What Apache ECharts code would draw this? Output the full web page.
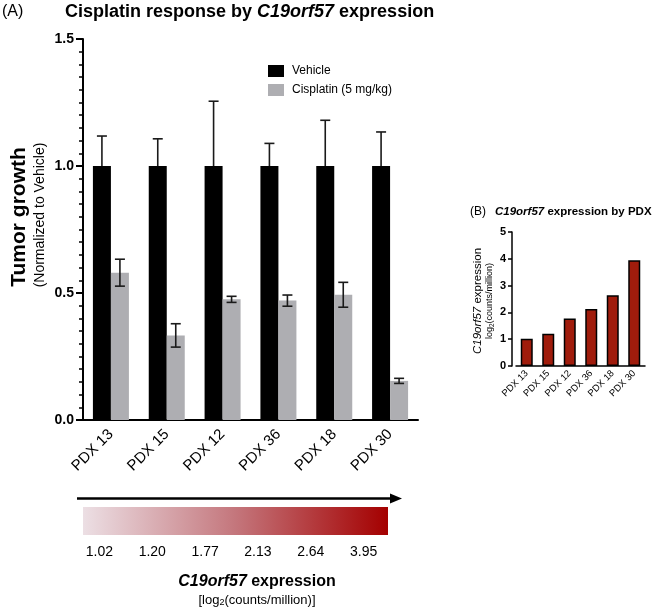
<!DOCTYPE html>
<html>
<head>
<meta charset="utf-8">
<script src="https://cdn.jsdelivr.net/npm/echarts@6/dist/echarts.min.js"></script>
<style>
html,body{margin:0;padding:0;background:#fff;}
#chart{width:669px;height:611px;}
</style>
</head>
<body>
<div id="chart"></div>
<script>
// ---- data ----
const categories = ['PDX 13', 'PDX 15', 'PDX 12', 'PDX 36', 'PDX 18', 'PDX 30'];
const vehicleMean = [1, 1, 1, 1, 1, 1];
const vehicleErr = [0.118, 0.107, 0.255, 0.089, 0.180, 0.134];
const cisplatinMean = [0.580, 0.333, 0.475, 0.470, 0.493, 0.154];
const cisplatinErr = [0.053, 0.046, 0.012, 0.022, 0.049, 0.010];
const expression = [1.02, 1.20, 1.77, 2.13, 2.64, 3.95];
const expressionLabels = ['1.02', '1.20', '1.77', '2.13', '2.64', '3.95'];

const FONT = '"Liberation Sans", Arial, Helvetica, sans-serif';
const chart = echarts.init(document.getElementById('chart'), null, {renderer: 'canvas'});

function errRender(offset, upperOnly) {
  return function (params, api) {
    const i = api.value(0), m = api.value(1), e = api.value(2);
    const c = api.coord([i, m]);
    const x = c[0] + offset;
    const top = api.coord([i, m + e])[1];
    const bot = upperOnly ? c[1] : api.coord([i, m - e])[1];
    const hw = 5;
    const st = {stroke: '#1a1a1a', lineWidth: 1.6};
    const ch = [
      {type: 'line', shape: {x1: x, y1: top, x2: x, y2: bot}, style: st},
      {type: 'line', shape: {x1: x - hw, y1: top, x2: x + hw, y2: top}, style: st}
    ];
    if (!upperOnly) ch.push({type: 'line', shape: {x1: x - hw, y1: bot, x2: x + hw, y2: bot}, style: st});
    return {type: 'group', children: ch};
  };
}

const option = {
  animation: false,
  backgroundColor: '#fff',
  legend: {
    data: ['Vehicle', 'Cisplatin (5 mg/kg)'],
    orient: 'vertical',
    left: 268, top: 65, padding: 0,
    itemWidth: 16, itemHeight: 12, itemGap: 7,
    icon: 'rect',
    textStyle: {fontSize: 12, color: '#000', fontFamily: FONT, padding: [0, 0, 0, 3]}
  },
  grid: [
    {left: 83, top: 39, width: 335, height: 381},
    {left: 516, top: 232, width: 129, height: 134},
    {left: 73, top: 530, width: 317, height: 5}
  ],
  xAxis: [
    {
      gridIndex: 0, type: 'category', data: categories,
      axisLine: {lineStyle: {color: '#000', width: 2}},
      axisTick: {alignWithLabel: true, length: 6, lineStyle: {width: 2, color: '#000'}},
      axisLabel: {rotate: 45, fontSize: 15, color: '#000', margin: 12, fontFamily: FONT}
    },
    {
      gridIndex: 1, type: 'category', data: categories,
      axisLine: {lineStyle: {color: '#000', width: 1.5}},
      axisTick: {alignWithLabel: true, length: 4, lineStyle: {width: 1.5, color: '#000'}},
      axisLabel: {rotate: 45, fontSize: 9.5, color: '#000', margin: 6, fontFamily: FONT}
    },
    {
      gridIndex: 2, type: 'category', data: expressionLabels,
      axisLine: {show: false}, axisTick: {show: false},
      axisLabel: {fontSize: 14, color: '#000', margin: 10, fontFamily: FONT}
    }
  ],
  yAxis: [
    {
      gridIndex: 0, type: 'value', min: 0, max: 1.5, interval: 0.5, position: 'left',
      axisLine: {show: true, lineStyle: {color: '#000', width: 2}},
      axisTick: {show: true, length: 7, lineStyle: {width: 2, color: '#000'}},
      minorTick: {show: true, splitNumber: 10, length: 4, lineStyle: {width: 1.5, color: '#000'}},
      splitLine: {show: false},
      axisLabel: {fontSize: 14, fontWeight: 'bold', color: '#000', margin: 9, fontFamily: FONT,
        formatter: v => v.toFixed(1)}
    },
    {
      gridIndex: 1, type: 'value', min: 0, max: 5, interval: 1, offset: 4,
      axisLine: {show: true, lineStyle: {color: '#000', width: 1.5}},
      axisTick: {show: true, length: 4, lineStyle: {width: 1.5, color: '#000'}},
      splitLine: {show: false},
      axisLabel: {fontSize: 11, fontWeight: 'bold', color: '#000', margin: 6, fontFamily: FONT}
    },
    {gridIndex: 2, type: 'value', show: false}
  ],
  series: [
    {
      name: 'Vehicle', type: 'bar', xAxisIndex: 0, yAxisIndex: 0,
      data: vehicleMean, barWidth: 18, barGap: '0%',
      itemStyle: {color: '#000'}
    },
    {
      name: 'Cisplatin (5 mg/kg)', type: 'bar', xAxisIndex: 0, yAxisIndex: 0,
      data: cisplatinMean, barWidth: 18, barGap: '0%',
      itemStyle: {color: '#aeaeb2'}
    },
    {
      type: 'custom', xAxisIndex: 0, yAxisIndex: 0, z: 5,
      renderItem: errRender(-9, true),
      data: vehicleMean.map((m, i) => [i, m, vehicleErr[i]])
    },
    {
      type: 'custom', xAxisIndex: 0, yAxisIndex: 0, z: 5,
      renderItem: errRender(9, false),
      data: cisplatinMean.map((m, i) => [i, m, cisplatinErr[i]])
    },
    {
      type: 'bar', xAxisIndex: 1, yAxisIndex: 1,
      data: expression, barWidth: 12,
      itemStyle: {color: '#a01c0c', borderColor: '#000', borderWidth: 1.5}
    },
    {
      type: 'bar', xAxisIndex: 2, yAxisIndex: 2, data: [], silent: true
    }
  ],
  graphic: [
    {type: 'text', x: 2, y: 12, style: {text: '(A)', font: '16px ' + FONT, fill: '#000', textVerticalAlign: 'middle'}},
    {type: 'text', x: 65, y: 12, style: {
      text: '{b|Cisplatin response by }{bi|C19orf57}{b| expression}',
      textVerticalAlign: 'middle',
      rich: {
        b: {fontFamily: FONT, fontSize: 18, fontWeight: 'bold', fill: '#000'},
        bi: {fontFamily: FONT, fontSize: 18, fontWeight: 'bold', fontStyle: 'italic', fill: '#000'}
      }
    }},
    {type: 'text', x: 19, y: 217, rotation: Math.PI / 2, style: {
      text: 'Tumor growth', font: 'bold 21px ' + FONT, fill: '#000', textAlign: 'center', textVerticalAlign: 'middle'}},
    {type: 'text', x: 40, y: 215, rotation: Math.PI / 2, style: {
      text: '(Normalized to Vehicle)', font: '14px ' + FONT, fill: '#000', textAlign: 'center', textVerticalAlign: 'middle'}},
    // arrow
    {type: 'line', shape: {x1: 77, y1: 498.5, x2: 393, y2: 498.5}, style: {stroke: '#000', lineWidth: 2.5}},
    {type: 'polygon', shape: {points: [[390, 493.5], [402, 498.5], [390, 503.5]]}, style: {fill: '#000'}},
    // gradient strip
    {type: 'rect', shape: {x: 83, y: 507, width: 305, height: 28}, style: {
      fill: new echarts.graphic.LinearGradient(0, 0, 1, 0, [
        {offset: 0, color: '#ecdfe4'},
        {offset: 0.5, color: '#c4767c'},
        {offset: 1, color: '#a40000'}
      ])}},
    {type: 'text', x: 257, y: 582, style: {
      text: '{bi|C19orf57}{b| expression}', textAlign: 'center', textVerticalAlign: 'middle',
      rich: {
        b: {fontFamily: FONT, fontSize: 16, fontWeight: 'bold', fill: '#000'},
        bi: {fontFamily: FONT, fontSize: 16, fontWeight: 'bold', fontStyle: 'italic', fill: '#000'}
      }
    }},
    {type: 'text', x: 257, y: 600, style: {
      text: '{n|[log}{s|2}{n|(counts/million)]}', textAlign: 'center', textVerticalAlign: 'middle',
      rich: {
        n: {fontFamily: FONT, fontSize: 13, fill: '#000'},
        s: {fontFamily: FONT, fontSize: 9, fill: '#000', verticalAlign: 'bottom', padding: [6, 0, 0, 0]}
      }
    }},
    // panel B
    {type: 'text', x: 470, y: 212, style: {text: '(B)', font: '12px ' + FONT, fill: '#000', textVerticalAlign: 'middle'}},
    {type: 'text', x: 495, y: 212, style: {
      text: '{bi|C19orf57}{b| expression by PDX}', textVerticalAlign: 'middle',
      rich: {
        b: {fontFamily: FONT, fontSize: 11.5, fontWeight: 'bold', fill: '#000'},
        bi: {fontFamily: FONT, fontSize: 11.5, fontWeight: 'bold', fontStyle: 'italic', fill: '#000'}
      }
    }},
    {type: 'text', x: 478, y: 301, rotation: Math.PI / 2, style: {
      text: '{i|C19orf57}{n| expression}', textAlign: 'center', textVerticalAlign: 'middle',
      rich: {
        n: {fontFamily: FONT, fontSize: 11.5, fill: '#000'},
        i: {fontFamily: FONT, fontSize: 11.5, fontStyle: 'italic', fill: '#000'}
      }
    }},
    {type: 'text', x: 490, y: 301, rotation: Math.PI / 2, style: {
      text: '{n|log}{s|2}{n|(counts/million)}', textAlign: 'center', textVerticalAlign: 'middle',
      rich: {
        n: {fontFamily: FONT, fontSize: 9, fill: '#000'},
        s: {fontFamily: FONT, fontSize: 6.5, fill: '#000', padding: [4, 0, 0, 0]}
      }
    }}
  ]
};
chart.setOption(option);
</script>
</body>
</html>
